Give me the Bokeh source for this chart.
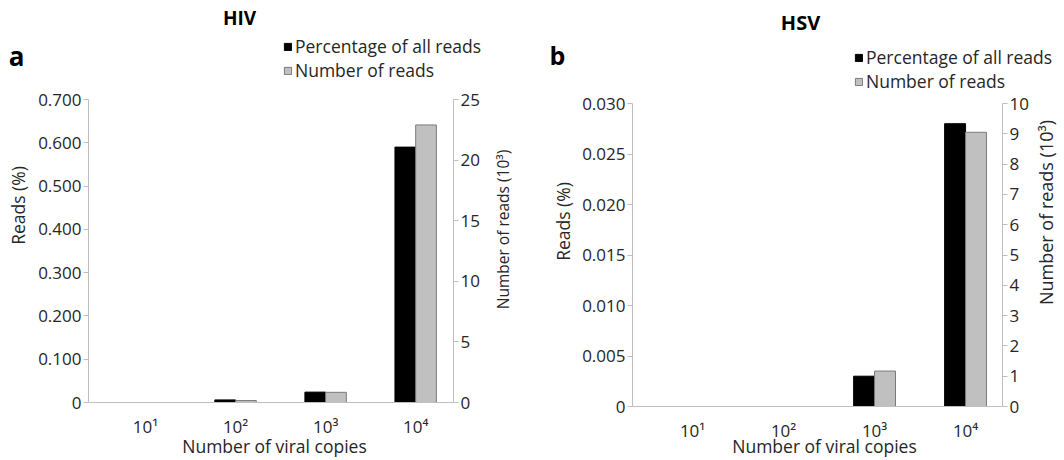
import math

from bokeh.embed import file_html
from bokeh.layouts import row
from bokeh.models import (ColumnDataSource, CustomJSTickFormatter, FixedTicker,
                          Label, Legend, LegendItem, LinearAxis, Range1d)
from bokeh.plotting import figure
from bokeh.resources import INLINE

# ---- data -------------------------------------------------------------
copies = ["10¹", "10²", "10³", "10⁴"]

hiv_percent = [0.0, 0.006, 0.024, 0.59]      # reads (%)
hiv_reads_k = [0.0, 0.16, 0.84, 22.9]        # number of reads (10^3)

hsv_percent = [0.0, 0.0, 0.003, 0.028]
hsv_reads_k = [0.0, 0.0, 1.17, 9.05]

hiv_pct_ticks = [0, 0.1, 0.2, 0.3, 0.4, 0.5, 0.6, 0.7]
hiv_reads_ticks = [0, 5, 10, 15, 20, 25]
hsv_pct_ticks = [0, 0.005, 0.010, 0.015, 0.020, 0.025, 0.030]
hsv_reads_ticks = [0, 1, 2, 3, 4, 5, 6, 7, 8, 9, 10]

# ---- style ------------------------------------------------------------
FONT = "Open Sans"
TEXT = "#262626"
AXIS = "#bfbfbf"
GRAY_FILL = "#c0c0c0"
GRAY_LINE = "#7a7a7a"
BAR_W = 0.23


def build(title, letter, pct, reads, pct_ticks, reads_ticks, g):
    """One dual-axis clustered column panel.

    The frame spans the whole canvas; the axes sit at fixed locations so
    the headings, legend and rotated axis titles can live in the margins.
    """
    W, H = g["width"], g["height"]
    pct_max = pct_ticks[-1]
    reads_max = reads_ticks[-1]
    fw = W - g["left"] - g["right"]
    fh = H - g["top"] - g["bottom"]
    kx = (g["xe"] - g["xs"]) / fw
    ky = pct_max / fh
    kr = reads_max / fh

    p = figure(width=W, height=H,
               x_range=Range1d(g["xs"] - g["left"] * kx, g["xe"] + g["right"] * kx),
               y_range=Range1d(-g["bottom"] * ky, pct_max + g["top"] * ky),
               x_axis_location=None, y_axis_location=None,
               output_backend="svg", toolbar_location=None,
               min_border=0)
    p.extra_y_ranges = {"reads": Range1d(-g["bottom"] * kr, reads_max + g["top"] * kr)}
    p.outline_line_color = None
    p.grid.visible = False
    p.background_fill_color = "white"
    p.border_fill_color = "white"

    xs = [i + 1 for i in range(len(copies))]
    src = ColumnDataSource(dict(
        x_pct=[x - BAR_W / 2 for x in xs],
        x_reads=[x + BAR_W / 2 for x in xs],
        pct=pct, reads=reads, copies=copies))

    r_pct = p.vbar(x="x_pct", top="pct", width=BAR_W, source=src,
                   fill_color="black", line_color="black", line_width=1)
    r_reads = p.vbar(x="x_reads", top="reads", width=BAR_W, source=src,
                     y_range_name="reads", fill_color=GRAY_FILL,
                     line_color=GRAY_LINE, line_width=1)

    # bottom axis: viral copy categories
    xa = LinearAxis(fixed_location=0, bounds=(g["xs"], g["xe"]),
                    ticker=FixedTicker(ticks=xs))
    xa.major_label_overrides = {x: c for x, c in zip(xs, copies)}
    xa.major_tick_line_color = None
    xa.minor_tick_line_color = None
    xa.axis_line_color = AXIS
    xa.major_label_text_font = FONT
    xa.major_label_text_font_size = "17px"
    xa.major_label_text_color = TEXT
    xa.major_label_standoff = g["xlab_standoff"]
    p.add_layout(xa, "below")

    # left axis: percentage of reads
    ya = LinearAxis(fixed_location=g["xs"], bounds=(0, pct_max),
                    ticker=FixedTicker(ticks=pct_ticks),
                    formatter=CustomJSTickFormatter(
                        code="return tick == 0 ? '0' : tick.toFixed(3);"))
    p.add_layout(ya, "left")

    # right axis: number of reads (thousands)
    ra = LinearAxis(y_range_name="reads", fixed_location=g["xe"],
                    bounds=(0, reads_max), ticker=FixedTicker(ticks=reads_ticks))
    p.add_layout(ra, "right")

    for ax in (ya, ra):
        ax.axis_line_color = AXIS
        ax.major_tick_line_color = AXIS
        ax.major_tick_out = 5
        ax.major_tick_in = 0
        ax.minor_tick_line_color = None
        ax.major_label_text_font = FONT
        ax.major_label_text_font_size = "17px"
        ax.major_label_text_color = TEXT
    ya.major_label_standoff = 2
    ra.major_label_standoff = 2

    # canvas pixel -> data coordinate helpers for the free text
    def dx(px):
        return g["xs"] + (px - g["left"]) * kx

    def dy(py):
        return (H - g["bottom"] - py) * ky

    def text(s, px, py, size, bold=False, angle=0.0):
        p.add_layout(Label(x=dx(px), y=dy(py), text=s, angle=angle,
                           text_font=FONT, text_font_size=size,
                           text_font_style="bold" if bold else "normal",
                           text_color="black" if bold else TEXT,
                           text_align="center", text_baseline="middle"))

    text(title, *g["title"], g["title_size"], bold=True)
    text(letter, *g["letter"], g["letter_size"], bold=True)
    text("Reads (%)", *g["ylab"], "17.5px", angle=math.pi / 2)
    text("Number of reads (10³)", *g["rlab"], g["rlab_size"], angle=math.pi / 2)
    text("Number of viral copies", *g["xlab"], "17.5px")

    legend = Legend(items=[LegendItem(label="Percentage of all reads", renderers=[r_pct]),
                           LegendItem(label="Number of reads", renderers=[r_reads])],
                    location=g["legend"], orientation="vertical",
                    padding=0, margin=0, spacing=0,
                    glyph_width=9, glyph_height=9, label_standoff=3,
                    label_height=21, label_text_font=FONT,
                    label_text_font_size="17.5px", label_text_color=TEXT,
                    label_text_baseline="middle",
                    border_line_color=None, background_fill_alpha=0)
    p.add_layout(legend)
    return p


hiv_geom = dict(width=532, height=460, left=88, right=79, top=99, bottom=58,
                xs=0.367, xe=4.42, xlab_standoff=6,
                title=(239, 17), title_size="19px",
                letter=(16, 55), letter_size="26px",
                ylab=(17.5, 205), rlab=(502, 229), rlab_size="15.5px",
                xlab=(274, 445),
                legend=(283, 378))
hsv_geom = dict(width=532, height=460, left=100, right=62, top=103, bottom=54,
                xs=0.34, xe=4.406, xlab_standoff=6,
                title=(268, 22), title_size="20px",
                letter=(25, 54), letter_size="25px",
                ylab=(30, 221), rlab=(513, 212), rlab_size="18px",
                xlab=(292, 445),
                legend=(322, 367))

p1 = build("HIV", "a", hiv_percent, hiv_reads_k, hiv_pct_ticks, hiv_reads_ticks, hiv_geom)
p2 = build("HSV", "b", hsv_percent, hsv_reads_k, hsv_pct_ticks, hsv_reads_ticks, hsv_geom)

layout = row(p1, p2)
open("out.html", "w").write(file_html(layout, INLINE))
